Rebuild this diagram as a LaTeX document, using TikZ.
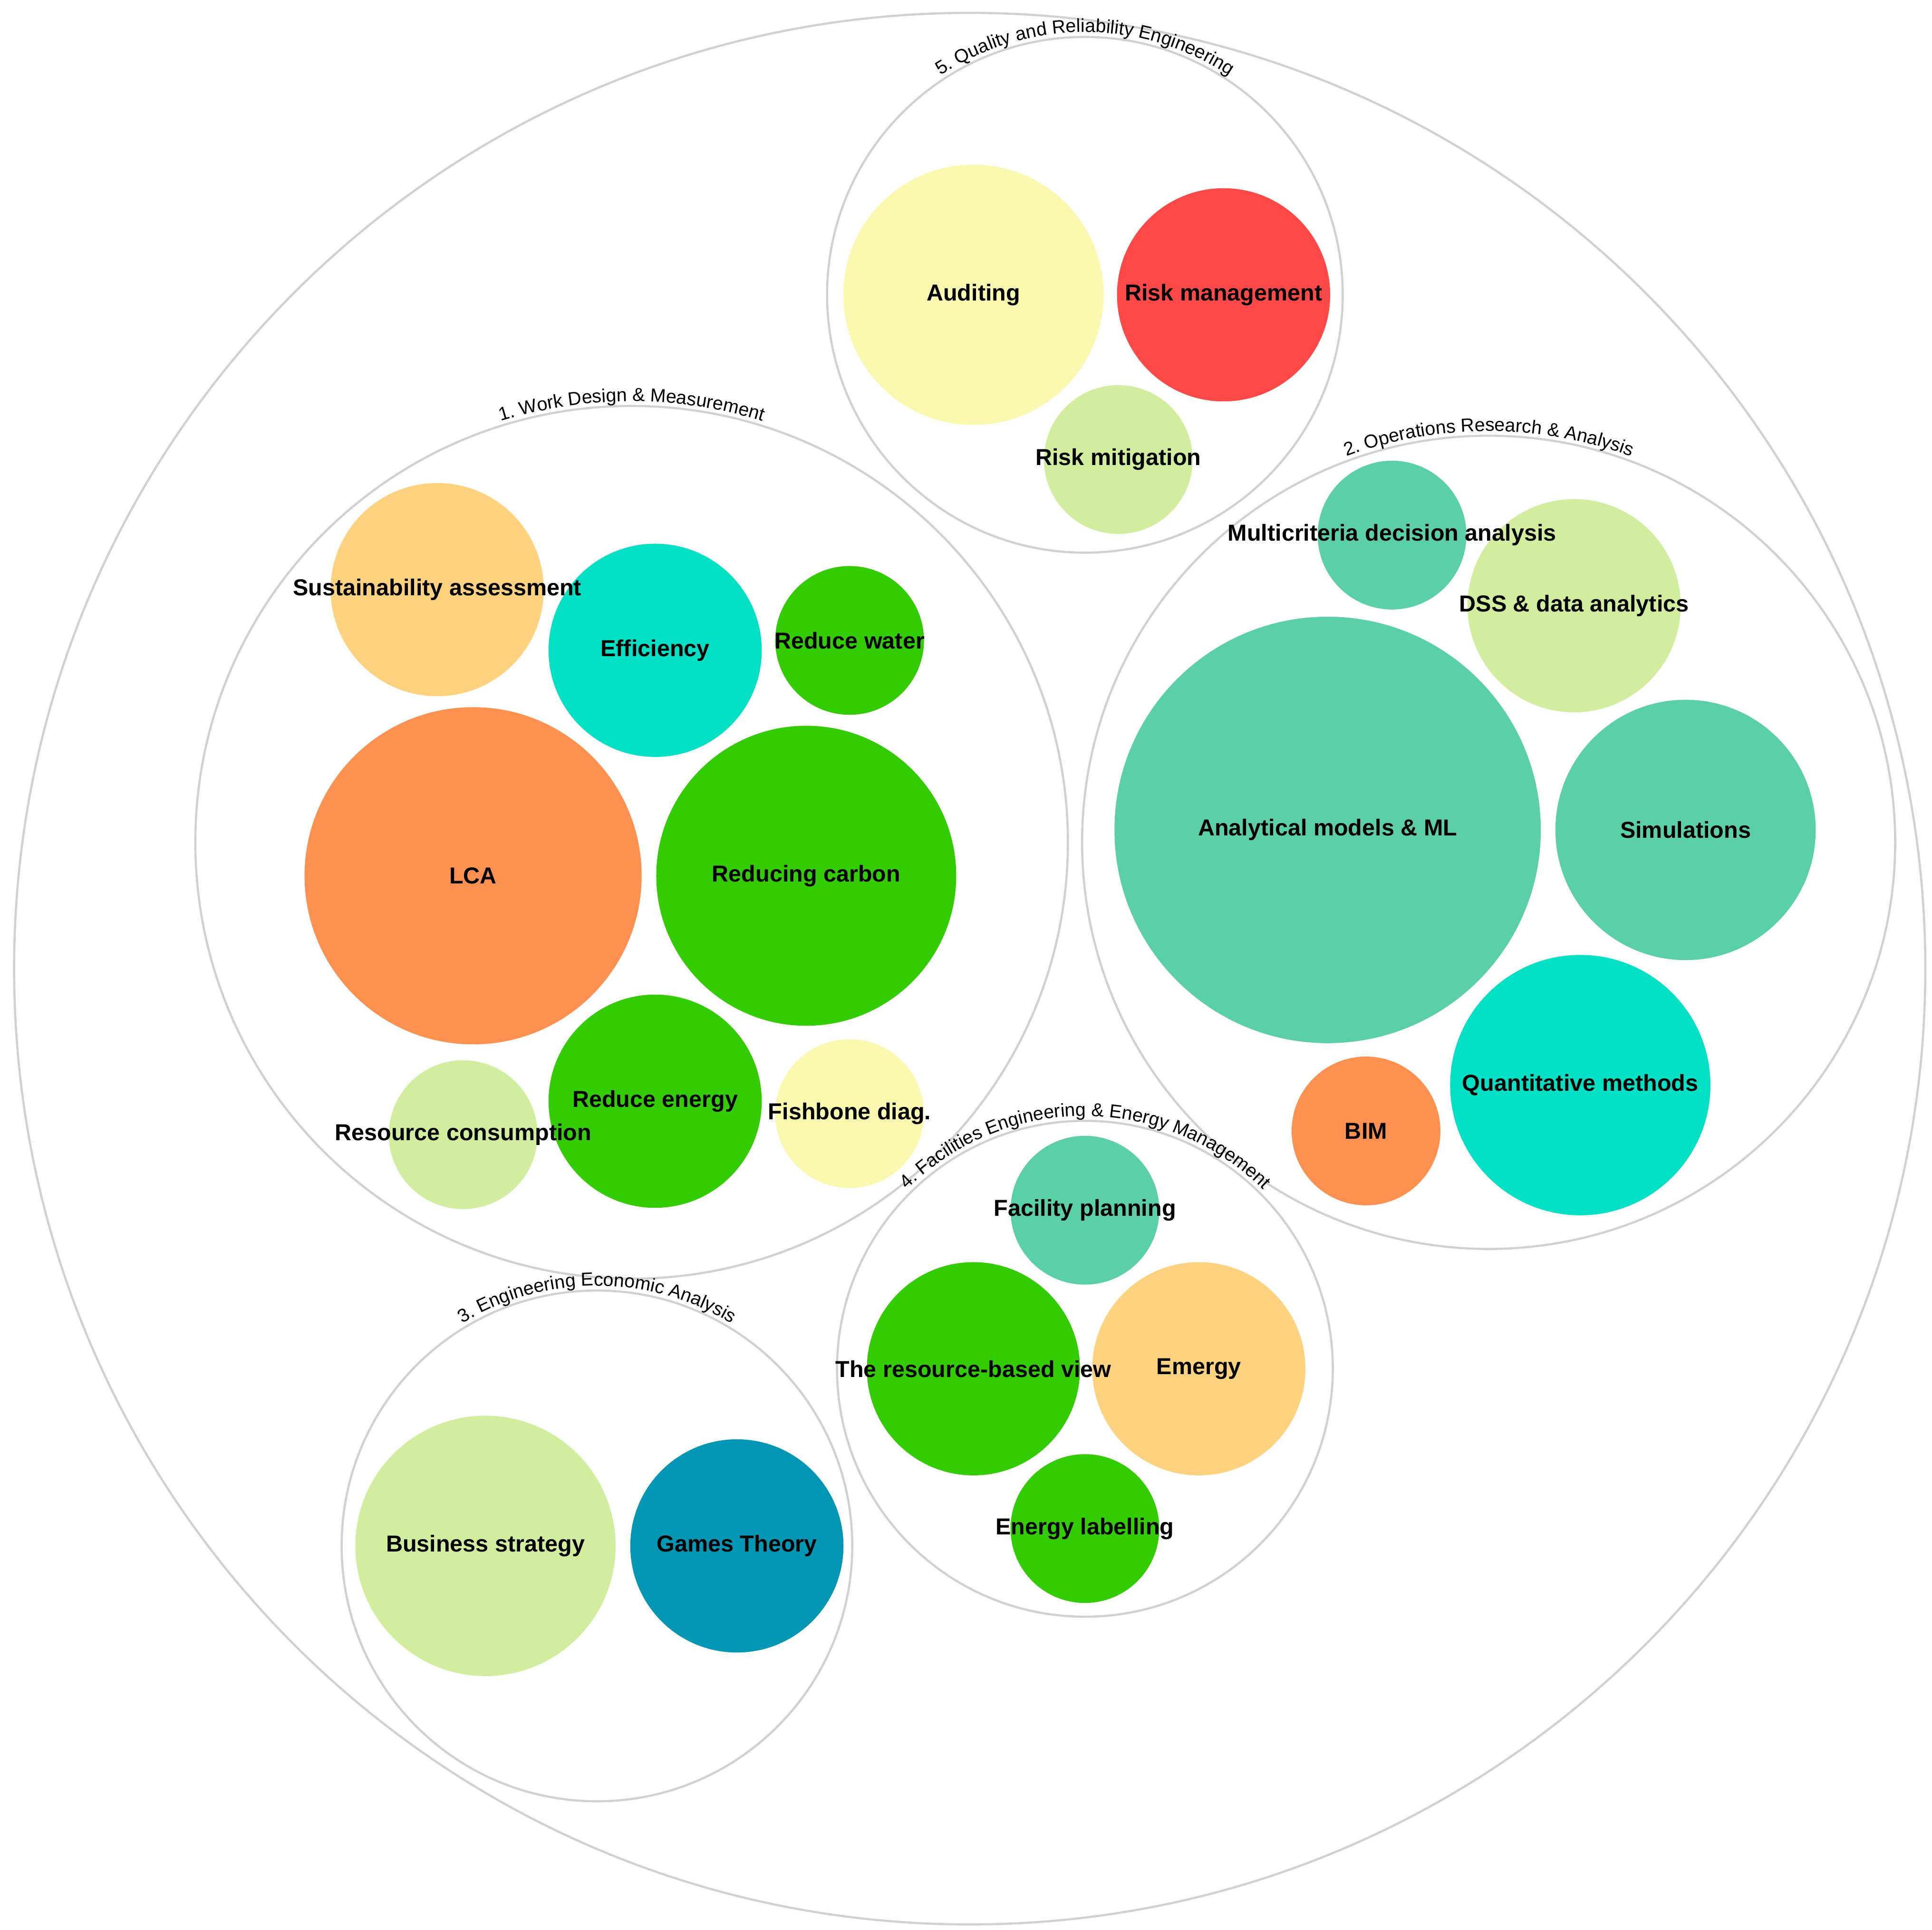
\documentclass[tikz,border=0pt]{standalone}
\usepackage{fontspec}
\setmainfont{Liberation Sans}
\usetikzlibrary{decorations.text}

\definecolor{paleyel}{HTML}{FBF8B0}
\definecolor{riskred}{HTML}{FF4848}
\definecolor{lightgrn}{HTML}{D0EE9E}
\definecolor{sand}{HTML}{FFD280}
\definecolor{turq}{HTML}{00E0C4}
\definecolor{grass}{HTML}{33CC00}
\definecolor{coral}{HTML}{FF9150}
\definecolor{mint}{HTML}{5BCFA5}
\definecolor{petrol}{HTML}{0096B4}

\begin{document}
\begin{tikzpicture}[x=0.01cm, y=0.01cm,
    gruppe/.style={circle, draw=black!18, line width=0.5pt, inner sep=0, minimum size=#1*0.02cm},
    blase/.style 2 args={circle, fill=#1, inner sep=0, minimum size=#2*0.02cm},
    schrift/.style={font=\bfseries\fontsize{5.3}{6}\selectfont, inner sep=0}
    ]
\useasboundingbox (0,0) rectangle (1560,-1558);

% outer ring and groups
\node[gruppe=771] (alle) at (783,-782) {};
\node[gruppe=208] (gruppe5) at (876,-238) {};
\node[gruppe=352] (gruppe1) at (510,-680) {};
\node[gruppe=328] (gruppe2) at (1202,-680) {};
\node[gruppe=200] (gruppe4) at (876,-1105) {};
\node[gruppe=206] (gruppe3) at (482,-1248) {};

% group titles along the arcs
\path[decorate, decoration={text along path, text align=center,
  text={|\fontsize{4.3}{5}\selectfont|5. Quality and Reliability Engineering}}]
  (gruppe5.center) ++(155:212) arc[start angle=155, end angle=25, radius=212];
\path[decorate, decoration={text along path, text align=center,
  text={|\fontsize{4.3}{5}\selectfont|1. Work Design {\&} Measurement}}]
  (gruppe1.center) ++(130:356) arc[start angle=130, end angle=50, radius=356];
\path[decorate, decoration={text along path, text align=center,
  text={|\fontsize{4.3}{5}\selectfont|2. Operations Research {\&} Analysis}}]
  (gruppe2.center) ++(130:332) arc[start angle=130, end angle=50, radius=332];
\path[decorate, decoration={text along path, text align=center,
  text={|\fontsize{4.3}{5}\selectfont|4. Facilities Engineering {\&} Energy Management}}]
  (gruppe4.center) ++(160:204) arc[start angle=160, end angle=20, radius=204];
\path[decorate, decoration={text along path, text align=center,
  text={|\fontsize{4.3}{5}\selectfont|3. Engineering Economic Analysis}}]
  (gruppe3.center) ++(145:210) arc[start angle=145, end angle=35, radius=210];

% group 5
\node[blase={paleyel}{105}] (auditing) at (786,-238) {};
\node[blase={riskred}{86}] (riskman) at (988,-238) {};
\node[blase={lightgrn}{60}] (riskmit) at (903,-371) {};
% group 1
\node[blase={sand}{86}] (sustain) at (353,-476) {};
\node[blase={turq}{86}] (effic) at (529,-525) {};
\node[blase={grass}{60}] (water) at (686,-517) {};
\node[blase={coral}{136}] (lca) at (382,-707) {};
\node[blase={grass}{121}] (carbon) at (651,-707) {};
\node[blase={lightgrn}{60}] (resource) at (374,-916) {};
\node[blase={grass}{86}] (energy) at (529,-889) {};
\node[blase={paleyel}{60}] (fishbone) at (686,-899) {};
% group 2
\node[blase={mint}{60}] (mcda) at (1124,-432) {};
\node[blase={lightgrn}{86}] (dss) at (1271,-489) {};
\node[blase={mint}{172}] (analytic) at (1072,-670) {};
\node[blase={mint}{105}] (simul) at (1361,-670) {};
\node[blase={turq}{105}] (quant) at (1276,-876) {};
\node[blase={coral}{60}] (bim) at (1103,-913) {};
% group 4
\node[blase={mint}{60}] (facility) at (876,-977) {};
\node[blase={grass}{86}] (rbv) at (786,-1105) {};
\node[blase={sand}{86}] (emergy) at (968,-1105) {};
\node[blase={grass}{60}] (label) at (876,-1234) {};
% group 3
\node[blase={lightgrn}{105}] (business) at (392,-1248) {};
\node[blase={petrol}{86}] (games) at (595,-1248) {};

% labels
\node[schrift] at (auditing) {Auditing};
\node[schrift] at (riskman) {Risk management};
\node[schrift] at (riskmit) {Risk mitigation};
\node[schrift] at (sustain) {Sustainability assessment};
\node[schrift] at (effic) {Efficiency};
\node[schrift] at (water) {Reduce water};
\node[schrift] at (lca) {LCA};
\node[schrift] at (carbon) {Reducing carbon};
\node[schrift] at (resource) {Resource consumption};
\node[schrift] at (energy) {Reduce energy};
\node[schrift] at (fishbone) {Fishbone diag.};
\node[schrift] at (mcda) {Multicriteria decision analysis};
\node[schrift] at (dss) {DSS \& data analytics};
\node[schrift] at (analytic) {Analytical models \& ML};
\node[schrift] at (simul) {Simulations};
\node[schrift] at (quant) {Quantitative methods};
\node[schrift] at (bim) {BIM};
\node[schrift] at (facility) {Facility planning};
\node[schrift] at (rbv) {The resource-based view};
\node[schrift] at (emergy) {Emergy};
\node[schrift] at (label) {Energy labelling};
\node[schrift] at (business) {Business strategy};
\node[schrift] at (games) {Games Theory};

\end{tikzpicture}
\end{document}
